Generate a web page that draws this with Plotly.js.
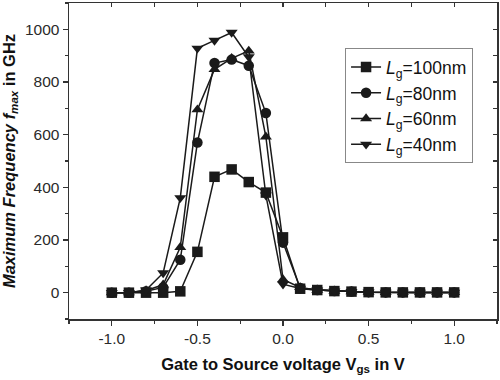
<!DOCTYPE html>
<html><head><meta charset="utf-8">
<script src="https://cdn.plot.ly/plotly-3.0.1.min.js"></script>
<style>body{margin:0;background:#fff}#p{width:500px;height:380px}</style>
</head><body><div id="p"></div><script>
var vgs = [-1.0,-0.9,-0.8,-0.7,-0.6,-0.5,-0.4,-0.3,-0.2,-0.1,0.0,0.1,0.2,0.3,0.4,0.5,0.6,0.7,0.8,0.9,1.0];
var f100 = [0,0,0,0,5,155,440,468,420,380,210,15,10,6,4,2,1,1,1,1,1];
var f80  = [0,0,5,20,125,570,872,885,862,682,190,18,10,6,4,2,1,1,1,1,1];
var f60  = [0,0,8,30,172,695,848,890,918,592,50,20,10,6,4,2,1,1,1,1,1];
var f40  = [0,0,10,75,360,928,958,988,895,370,32,16,10,6,4,2,1,1,1,1,1];
var xTickVals = [-1.0,-0.5,0.0,0.5,1.0];
var xTickText = ['-1.0','-0.5','0.0','0.5','1.0'];
var names = ['<i>L</i><sub>g</sub>=100nm','<i>L</i><sub>g</sub>=80nm','<i>L</i><sub>g</sub>=60nm','<i>L</i><sub>g</sub>=40nm'];
var symbols = ['square','circle','triangle-up','triangle-down'];
var series = [f100,f80,f60,f40];
var traces = series.map(function(s,i){
  return {x:vgs,y:s,name:names[i],mode:'lines+markers',type:'scatter',
    line:{color:'#1a1a1a',width:1.5},
    marker:{symbol:symbols[i],size:10.5,color:'#1a1a1a'}};
});
traces.push({x:[],y:[],xaxis:'x2',yaxis:'y2',showlegend:false,hoverinfo:'skip',type:'scatter'});
var axc = '#333';
var layout = {
  width:500,height:380,
  margin:{l:69,r:3,t:3,b:61},
  paper_bgcolor:'#fff',plot_bgcolor:'#fff',
  font:{family:'Liberation Sans, Arial, sans-serif',color:'#2a2a2a',size:15.5},
  showlegend:true,
  legend:{x:0.645,y:0.857,xanchor:'left',yanchor:'top',bordercolor:'#888',borderwidth:1,
    font:{size:17.5,color:'#111'},bgcolor:'#fff'},
  xaxis:{range:[-1.25,1.25],tickvals:xTickVals,ticktext:xTickText,showgrid:false,zeroline:false,
    showline:true,linecolor:axc,linewidth:1.5,mirror:true,ticks:'outside',ticklen:5,tickwidth:1.3,tickcolor:axc,
    minor:{dtick:0.25,tick0:0,ticks:'outside',ticklen:3,tickwidth:1.3,tickcolor:axc},
    title:{text:'<b>Gate to Source voltage V<sub>gs</sub> in V</b>',font:{size:16.5,color:'#111'},standoff:12}},
  yaxis:{range:[-100,1100],dtick:200,tick0:0,showgrid:false,zeroline:false,
    showline:true,linecolor:axc,linewidth:1.5,mirror:true,ticks:'outside',ticklen:5,tickwidth:1.3,tickcolor:axc,
    minor:{dtick:100,tick0:0,ticks:'outside',ticklen:3,tickwidth:1.3,tickcolor:axc},
    title:{text:'<b><i>Maximum Frequency f<sub>max</sub></i> in GHz</b>',font:{size:16.5,color:'#111'},standoff:5}},
  xaxis2:{range:[-1.25,1.25],overlaying:'x',side:'top',anchor:'y2',dtick:0.25,tick0:0,showticklabels:false,
    showgrid:false,zeroline:false,showline:false,ticks:'inside',ticklen:4,tickwidth:1.3,tickcolor:axc},
  yaxis2:{range:[-100,1100],overlaying:'y',side:'right',anchor:'x2',dtick:100,tick0:0,showticklabels:false,
    showgrid:false,zeroline:false,showline:false,ticks:'inside',ticklen:4,tickwidth:1.3,tickcolor:axc}
};
Plotly.newPlot('p',traces,layout,{displayModeBar:false,staticPlot:true});
</script></body></html>
